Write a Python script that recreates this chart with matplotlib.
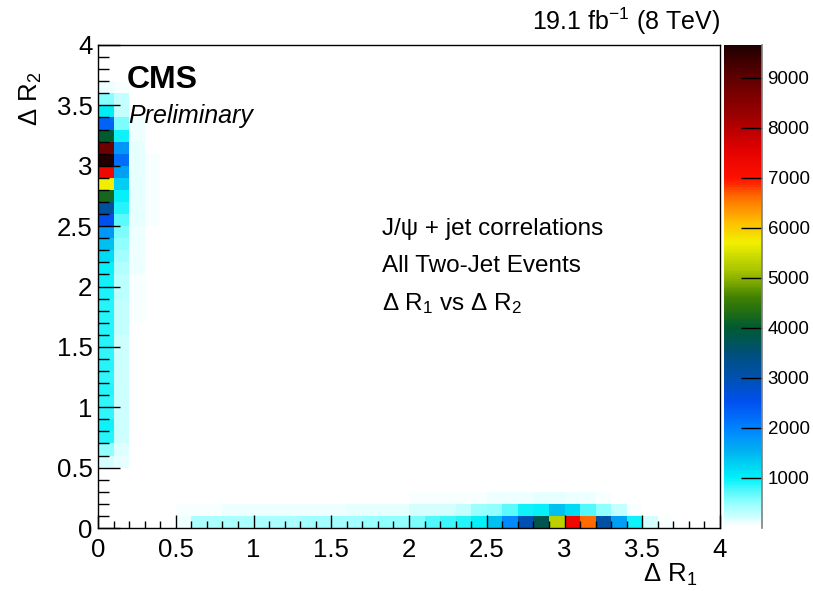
import numpy as np
import matplotlib
matplotlib.use("Agg")
import matplotlib.pyplot as plt
from matplotlib.colors import LinearSegmentedColormap, Normalize
from matplotlib.ticker import MultipleLocator

plt.rcParams['font.family'] = ['Liberation Sans', 'DejaVu Sans']
plt.rcParams['mathtext.fontset'] = 'custom'
plt.rcParams['mathtext.rm'] = 'Liberation Sans'
plt.rcParams['mathtext.it'] = 'Liberation Sans:italic'

# 40 x 40 bins of 0.1 in Delta R1 (x) and Delta R2 (y)
edges = np.arange(0, 4.0001, 0.1)

# column dR1 in [0,0.1], indexed by dR2 bin (0..39)
col0 = [5, 5, 5, 5, 10, 200, 500, 880, 950, 850,
        850, 870, 860, 880, 860, 870, 880, 890, 900, 920,
        950, 1000, 1200, 1400, 1800, 2500, 3200, 4200, 5700, 7300,
        9650, 8800, 4000, 2300, 1050, 550, 100, 0, 0, 0]
# column dR1 in [0.1,0.2]
col1 = [0, 0, 5, 5, 10, 120, 180, 230, 230, 230,
        240, 240, 250, 250, 260, 260, 270, 280, 290, 310,
        330, 350, 420, 500, 600, 700, 900, 1000, 1300, 1700,
        2200, 1800, 950, 600, 280, 300, 50, 0, 0, 0]
# column dR1 in [0.2,0.3]
col2 = [0, 5, 15, 15, 15, 20, 25, 30, 30, 30,
        30, 30, 30, 30, 30, 35, 35, 40, 50, 60,
        70, 80, 90, 100, 110, 120, 120, 130, 130, 130,
        130, 120, 110, 90, 30, 10, 0, 0, 0, 0]
# column dR1 in [0.3,0.4]
col3 = [0, 5, 10, 10, 10, 5, 5, 5, 5, 5,
        5, 5, 5, 5, 5, 5, 10, 15, 20, 25,
        30, 30, 30, 35, 35, 40, 40, 40, 40, 40,
        40, 35, 30, 20, 5, 0, 0, 0, 0, 0]
# row dR2 in [0,0.1], indexed by dR1 bin (0..39)
row0 = [5, 5, 5, 5, 10, 80, 380, 390, 390, 400,
        400, 410, 410, 420, 430, 440, 450, 470, 500, 520,
        600, 750, 800, 900, 1000, 1400, 1900, 3000, 3800, 5300,
        7300, 6600, 3100, 1700, 950, 200, 40, 0, 0, 0]
# row dR2 in [0.1,0.2]
row1 = [0, 0, 5, 10, 20, 40, 70, 75, 80, 85,
        90, 90, 100, 100, 110, 110, 120, 120, 150, 150,
        200, 200, 200, 300, 480, 520, 700, 950, 1000, 1400,
        1200, 750, 500, 300, 60, 20, 0, 0, 0, 0]
# row dR2 in [0.2,0.3]
row2 = [0, 0, 5, 10, 15, 15, 15, 15, 15, 15,
        15, 15, 15, 15, 15, 15, 20, 20, 25, 30,
        40, 40, 50, 50, 70, 90, 100, 110, 120, 120,
        110, 90, 50, 30, 10, 5, 0, 0, 0, 0]

H = np.zeros((40, 40))  # H[y, x]
H[:, 3] = col3
H[:, 2] = col2
H[2, :] = np.maximum(H[2, :], row2)
H[1, :] = np.maximum(H[1, :], row1)
H[0, :] = np.maximum(H[0, :], row0)
H[:, 1] = col1
H[:, 0] = col0

cmap = LinearSegmentedColormap.from_list('root', [
    (0.0, '#ffffff'),
    (500 / 9650, '#90ffff'),
    (1000 / 9650, '#00f0f8'),
    (1500 / 9650, '#00b4f0'),
    (2000 / 9650, '#0080ff'),
    (2500 / 9650, '#0050f0'),
    (3000 / 9650, '#0050b0'),
    (3500 / 9650, '#005078'),
    (4000 / 9650, '#005a30'),
    (4600 / 9650, '#408000'),
    (5100 / 9650, '#a0c000'),
    (5700 / 9650, '#f0f000'),
    (6100 / 9650, '#ffc000'),
    (6600 / 9650, '#ff7000'),
    (7000 / 9650, '#ff1000'),
    (7600 / 9650, '#e00000'),
    (8200 / 9650, '#a00000'),
    (9000 / 9650, '#600000'),
    (1.0, '#200000'),
])
norm = Normalize(vmin=0, vmax=9650)

fig = plt.figure(figsize=(8.13, 5.91), dpi=100)
ax = fig.add_axes([98 / 813, 1 - 528 / 591, 622 / 813, 483 / 591])
mesh = ax.pcolormesh(edges, edges, H, cmap=cmap, norm=norm)
ax.set_xlim(0, 4)
ax.set_ylim(0, 4)

ax.xaxis.set_major_locator(MultipleLocator(0.5))
ax.xaxis.set_minor_locator(MultipleLocator(0.1))
ax.yaxis.set_major_locator(MultipleLocator(0.5))
ax.yaxis.set_minor_locator(MultipleLocator(0.1))
ax.xaxis.set_major_formatter(plt.FuncFormatter(lambda v, p: '%g' % v))
ax.yaxis.set_major_formatter(plt.FuncFormatter(lambda v, p: '%g' % v))
ax.tick_params(axis='x', which='major', direction='in', length=9.4, width=1, labelsize=18.5, pad=7, top=False)
ax.tick_params(axis='x', which='minor', direction='in', length=5, width=1, top=False)
ax.tick_params(axis='y', which='major', direction='in', length=15.5, width=1, labelsize=18.5, pad=4, right=False)
ax.tick_params(axis='y', which='minor', direction='in', length=8, width=1, right=False)
for s in ax.spines.values():
    s.set_linewidth(1)

cax = fig.add_axes([724 / 813, 1 - 528 / 591, 38 / 813, 483 / 591])
cb = fig.colorbar(mesh, cax=cax)
cb.set_ticks(np.arange(1000, 9001, 1000))
cb.outline.set_visible(False)
cax.plot([1, 1], [0, 1], transform=cax.transAxes, color='gray', lw=1.2, clip_on=False)
cax.tick_params(axis='y', direction='in', length=15, width=1, labelsize=13.5, pad=4, right=True, left=False)
cax.minorticks_off()

fig.text(720 / 813, 1 - 30 / 591, r'19.1 fb$^{\mathregular{-1}}$ (8 TeV)', ha='right', va='baseline', fontsize=18)
ax.text(0.047, 0.911, 'CMS', transform=ax.transAxes, fontsize=23, fontweight='bold', va='baseline')
ax.text(0.048, 0.838, 'Preliminary', transform=ax.transAxes, fontsize=18, style='italic', va='baseline')

ax.text(0.4566, 0.607, 'J/ψ + jet correlations', transform=ax.transAxes, fontsize=17.5, va='baseline')
ax.text(0.4566, 0.529, 'All Two-Jet Events', transform=ax.transAxes, fontsize=17.5, va='baseline')
ax.text(0.4566, 0.451, r'Δ R$_{\mathregular{1}}$ vs Δ R$_{\mathregular{2}}$', transform=ax.transAxes, fontsize=17.5, va='baseline')

fig.text(697 / 813, 1 - 582 / 591, r'Δ R$_{\mathregular{1}}$', ha='right', va='baseline', fontsize=18.5)
fig.text(31 / 813, 1 - 72 / 591, r'Δ R$_{\mathregular{2}}$', ha='center', va='top', rotation=90, fontsize=18.5)

fig.savefig('out.png', dpi=100)
